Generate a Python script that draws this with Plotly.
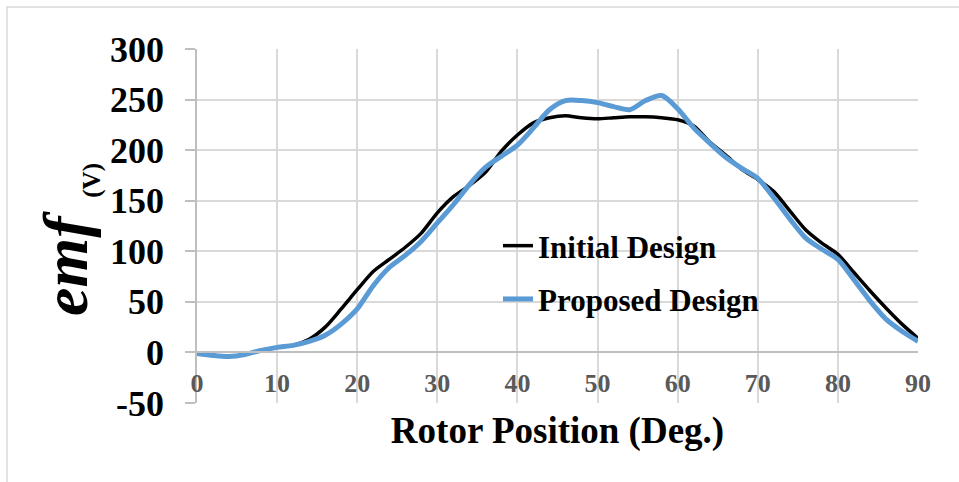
import plotly.graph_objects as go

# Rotor position (deg.) and back-EMF (V) for both machine designs
rotor_deg = [0, 2, 4, 6, 8, 10, 12, 14, 16, 18, 20, 22, 24, 26, 28, 30, 32, 34, 36, 38,
             40, 42, 44, 46, 48, 50, 52, 54, 56, 58, 60, 62, 64, 66, 68, 70, 72, 74, 76,
             78, 80, 82, 84, 86, 88, 90]
emf_initial = [-1, -3, -4, -2, 2, 5, 7, 13, 25, 43, 62, 80, 92, 104, 118, 138, 154, 165,
               178, 199, 215, 227, 232, 234, 232, 231, 232, 233, 233, 232, 230, 224, 208,
               195, 181, 171, 159, 140, 121, 108, 97, 79, 61, 44, 28, 14]
emf_proposed = [-1, -3, -4, -2, 2, 5, 7, 11, 17, 28, 43, 66, 84, 96, 110, 128, 146, 166,
                183, 194, 205, 222, 240, 249, 249, 247, 243, 240, 249, 254, 241, 222, 207,
                193, 182, 172, 153, 132, 113, 102, 92, 72, 51, 33, 21, 11]

x_ticks = [0, 10, 20, 30, 40, 50, 60, 70, 80, 90]
y_ticks = [-50, 0, 50, 100, 150, 200, 250, 300]

SERIF = "Liberation Serif"
GRID = "#d9d9d9"
AXIS = "#bfbfbf"

fig = go.Figure()
fig.add_trace(go.Scatter(
    x=rotor_deg, y=emf_initial, name="Initial Design", mode="lines",
    line=dict(color="#000000", width=3.5, shape="spline", smoothing=0.8),
    legendgroup="a",
))
fig.add_trace(go.Scatter(
    x=rotor_deg, y=emf_proposed, name="Proposed Design", mode="lines",
    line=dict(color="#5b9bd5", width=5, shape="spline", smoothing=0.8),
    legendgroup="b",
))

W, H = 959, 482
ml, mr, mt, mb = 197, 41, 49, 79
pw, ph = W - ml - mr, H - mt - mb


def px_x(p):
    return (p - ml) / pw


def px_y(p):
    return (H - mb - p) / ph


NBSP = "\u00a0"

fig.update_layout(
    width=W, height=H,
    margin=dict(l=ml, r=mr, t=mt, b=mb, pad=0),
    paper_bgcolor="white", plot_bgcolor="white",
    showlegend=True,
    legend=dict(
        x=px_x(498), y=px_y(219), xanchor="left", yanchor="top",
        bgcolor="rgba(0,0,0,0)",
        font=dict(family=SERIF, size=31, color="#000000", weight="bold"),
        tracegroupgap=10,
    ),
    xaxis=dict(
        range=[0, 90], tickvals=x_ticks, ticktext=[str(v) for v in x_ticks],
        showgrid=True, gridcolor=GRID, gridwidth=1.5,
        zeroline=False, showline=True, linecolor=AXIS, linewidth=1.5,
        ticks="", anchor="free", position=50 / 350,
        ticklabelstandoff=8,
        tickfont=dict(family=SERIF, size=26, color="#595959", weight="bold"),
        title=dict(text="Rotor Position (Deg.)", standoff=19,
                   font=dict(family=SERIF, size=37, color="#000000", weight="bold")),
    ),
    yaxis=dict(
        range=[-50, 300], tickvals=y_ticks, ticktext=[str(v) for v in y_ticks],
        showgrid=True, gridcolor=GRID, gridwidth=1.5,
        zeroline=False, showline=True, linecolor=AXIS, linewidth=1.5,
        ticks="outside", ticklen=10, tickcolor=AXIS, tickwidth=1.5,
        ticklabelstandoff=14,
        tickfont=dict(family=SERIF, size=36, color="#000000", weight="bold"),
    ),
    annotations=[dict(
        text=("<b><i>emf</i></b><sub><b><span style='font-size:25px'>"
              + NBSP * 3 + "(V)</span></b></sub>"),
        xref="paper", yref="paper", x=px_x(68), y=px_y(240),
        xanchor="center", yanchor="middle", textangle=-90, showarrow=False,
        font=dict(family=SERIF, size=64, color="#000000"),
    )],
    shapes=[dict(
        type="rect", xref="paper", yref="paper",
        x0=px_x(7), x1=px_x(990), y0=px_y(520), y1=px_y(7),
        line=dict(color=GRID, width=1.5), fillcolor="rgba(0,0,0,0)", layer="below",
    )],
)

fig.write_html("out.html")
